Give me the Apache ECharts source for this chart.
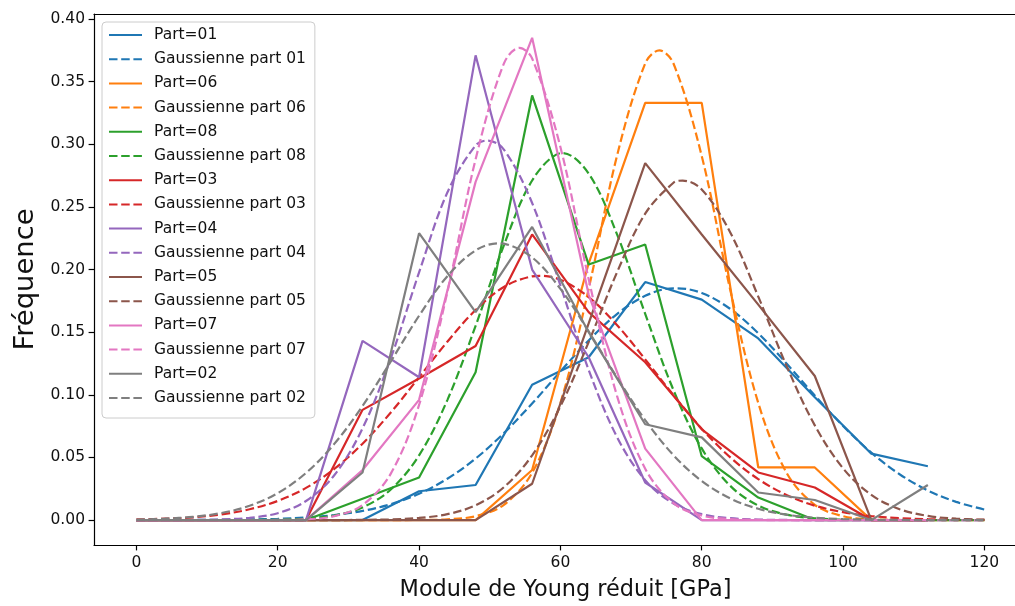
<!DOCTYPE html>
<html><head><meta charset="utf-8">
<script src="https://cdn.jsdelivr.net/npm/echarts@6/dist/echarts.min.js"></script>
<style>html,body{margin:0;padding:0;background:#fff}#c{width:1015px;height:606px}</style>
</head><body><div id="c"></div>
<script>
// Histogram bin positions (GPa)
const histX = [0, 8, 16, 24, 32, 40, 48, 56, 64, 72, 80, 88, 96, 104, 112];
// Measured frequencies per part
const part01 = [0, 0, 0, 0, 0, 0.023, 0.028, 0.108, 0.13, 0.19, 0.176, 0.145, 0.098, 0.053, 0.043];
const part06 = [0, 0, 0, 0, 0, 0, 0, 0.04, 0.205, 0.333, 0.333, 0.042, 0.042, 0, 0];
const part08 = [0, 0, 0, 0, 0.017, 0.034, 0.118, 0.339, 0.204, 0.22, 0.051, 0.018, 0, 0, 0];
const part03 = [0, 0, 0, 0, 0.088, 0.113, 0.139, 0.228, 0.166, 0.126, 0.0725, 0.038, 0.026, 0, 0];
const part04 = [0, 0, 0, 0, 0.143, 0.114, 0.371, 0.2, 0.13, 0.03, 0, 0, 0, 0, 0];
const part05 = [0, 0, 0, 0, 0, 0, 0, 0.029, 0.157, 0.285, 0.228, 0.172, 0.115, 0, 0];
const part07 = [0, 0, 0, 0, 0.04, 0.096, 0.27, 0.385, 0.18, 0.057, 0, 0, 0, 0, 0];
const part02 = [0, 0, 0, 0, 0.038, 0.229, 0.166, 0.234, 0.15, 0.0765, 0.066, 0.022, 0.016, 0, 0.028];

// Gaussian curves read at these x positions
const gaussX = [0,4,8,12,16,20,24,28,32,36,40,44,48,52,56,60,64,68,72,76,80,84,88,92,96,100,104,108,112,116,120];
const gauss01 = [0,0,0.0001,0.0002,0.0005,0.0010,0.0021,0.0040,0.0073,0.0127,0.0210,0.0330,0.0491,0.0694,0.0931,0.1186,0.1434,0.1644,0.1790,0.1850,0.1813,0.1687,0.1491,0.1250,0.0994,0.0751,0.0538,0.0366,0.0236,0.0145,0.0084];
const gauss06 = [0,0,0,0,0,0,0,0,0,0,0.0001,0.0006,0.0031,0.0122,0.0378,0.0935,0.1846,0.2906,0.3645,0.3645,0.2906,0.1846,0.0935,0.0378,0.0122,0.0031,0.0006,0.0001,0,0,0];
const gauss08 = [0,0,0,0,0.0001,0.0003,0.0011,0.0036,0.0101,0.0244,0.0517,0.0958,0.1550,0.2193,0.2711,0.2929,0.2766,0.2283,0.1647,0.1038,0.0572,0.0275,0.0116,0.0043,0.0014,0.0004,0.0001,0,0,0,0];
const gauss03 = [0.0005,0.0011,0.0022,0.0045,0.0086,0.0153,0.0257,0.0408,0.0610,0.0859,0.1140,0.1424,0.1677,0.1861,0.1946,0.1918,0.1780,0.1557,0.1283,0.0997,0.0729,0.0503,0.0327,0.0200,0.0115,0.0063,0.0032,0.0015,0.0007,0.0003,0.0001];
const gauss04 = [0,0,0.0001,0.0005,0.0018,0.0055,0.0152,0.0358,0.0732,0.1293,0.1977,0.2615,0.2991,0.2958,0.2531,0.1873,0.1199,0.0664,0.0318,0.0132,0.0047,0.0015,0.0004,0.0001,0,0,0,0,0,0,0];
const gauss05 = [0,0,0,0,0,0,0,0,0.0002,0.0005,0.0017,0.0047,0.0118,0.0262,0.0517,0.0908,0.1421,0.1976,0.2446,0.2693,0.2639,0.2300,0.1784,0.1231,0.0756,0.0413,0.0201,0.0087,0.0033,0.0011,0.0003];
const gauss07 = [0,0,0,0,0,0.0001,0.0006,0.0031,0.0120,0.0371,0.0919,0.1819,0.2880,0.3644,0.3685,0.2978,0.1924,0.0994,0.0410,0.0135,0.0036,0.0008,0.0001,0,0,0,0,0,0,0,0];
const gauss02 = [0.0004,0.0011,0.0026,0.0056,0.0114,0.0215,0.0376,0.0608,0.0911,0.1267,0.1631,0.1947,0.2153,0.2207,0.2097,0.1846,0.1506,0.1139,0.0798,0.0518,0.0312,0.0174,0.0090,0.0043,0.0019,0.0008,0.0003,0.0001,0,0,0];
// Peak of each Gaussian curve [x, y], same order as partIds
const gaussPeakX = [76.5, 74, 60.3, 57, 49.7, 77.3, 54.2, 51.3];
const gaussPeakY = [0.185, 0.375, 0.293, 0.195, 0.303, 0.271, 0.377, 0.221];

const partIds = ['01', '06', '08', '03', '04', '05', '07', '02'];
const partValues = [part01, part06, part08, part03, part04, part05, part07, part02];
const gaussValues = [gauss01, gauss06, gauss08, gauss03, gauss04, gauss05, gauss07, gauss02];
const colors = ['#1f77b4', '#ff7f0e', '#2ca02c', '#d62728', '#9467bd', '#8c564b', '#e377c2', '#7f7f7f'];

const xTicks = [0, 20, 40, 60, 80, 100, 120];
const yTicks = [0, 0.05, 0.10, 0.15, 0.20, 0.25, 0.30, 0.35, 0.40];

const FONT = 'DejaVu Sans';
const series = [];
partIds.forEach((id, i) => {
  series.push({
    name: 'Part=' + id, type: 'line', symbol: 'none', showSymbol: false,
    data: histX.map((x, k) => [x, partValues[i][k]]),
    lineStyle: { color: colors[i], width: 2.2, type: 'solid' },
    itemStyle: { color: colors[i] },
    emphasis: { disabled: true }
  });
  const pts = gaussX.map((x, k) => [x, gaussValues[i][k]]);
  pts.push([gaussPeakX[i], gaussPeakY[i]]);
  pts.sort((a, b) => a[0] - b[0]);
  series.push({
    name: 'Gaussienne part ' + id, type: 'line', symbol: 'none', showSymbol: false,
    smooth: 0.35,
    data: pts,
    lineStyle: { color: colors[i], width: 2.2, type: [8.5, 3.7] },
    itemStyle: { color: colors[i] },
    emphasis: { disabled: true }
  });
});

const XMIN = -6, XMAX = 124.33;
const chart = echarts.init(document.getElementById('c'), null, { renderer: 'canvas' });
chart.setOption({
  animation: false,
  backgroundColor: '#ffffff',
  grid: { left: 94, right: 0, top: 14, bottom: 60 },
  legend: {
    orient: 'vertical', left: 102, top: 22, selectedMode: false,
    itemWidth: 33, itemHeight: 16, itemGap: 8.2,
    padding: [5, 9, 12, 6],
    backgroundColor: 'rgba(255,255,255,0.8)', borderColor: '#cccccc', borderWidth: 1, borderRadius: 4,
    itemStyle: { opacity: 0 },
    textStyle: { fontFamily: FONT, fontSize: 15.5, color: '#111', lineHeight: 16, padding: [0, 0, 0, 7] }
  },
  xAxis: [{
    type: 'value', min: XMIN, max: XMAX,
    name: 'Module de Young réduit [GPa]', nameLocation: 'middle', nameGap: 34,
    nameTextStyle: { fontFamily: FONT, fontSize: 22.4, color: '#111', padding: [0, 0, 0, 22] },
    axisLine: { show: true, onZero: false, lineStyle: { color: '#000', width: 1.2 } },
    axisTick: { show: true, length: 5.4, customValues: xTicks, lineStyle: { color: '#000', width: 1.2 } },
    axisLabel: { customValues: xTicks, margin: 10, fontFamily: FONT, fontSize: 15.5, color: '#111' },
    splitLine: { show: false }
  }, {
    type: 'value', min: XMIN, max: XMAX, position: 'top',
    axisLine: { show: true, onZero: false, lineStyle: { color: '#000', width: 1.2 } },
    axisTick: { show: false }, axisLabel: { show: false }, splitLine: { show: false }
  }],
  yAxis: {
    type: 'value', min: -0.0199, max: 0.404,
    name: 'Fréquence', nameLocation: 'middle', nameGap: 53, nameRotate: 90,
    nameTextStyle: { fontFamily: FONT, fontSize: 27.4, color: '#111' },
    axisLine: { show: true, onZero: false, lineStyle: { color: '#000', width: 1.2 } },
    axisTick: { show: true, length: 5.4, customValues: yTicks, lineStyle: { color: '#000', width: 1.2 } },
    axisLabel: { customValues: yTicks, margin: 9, fontFamily: FONT, fontSize: 15.5, color: '#111',
      formatter: v => v.toFixed(2) },
    splitLine: { show: false }
  },
  series: series
});
</script>
</body></html>
